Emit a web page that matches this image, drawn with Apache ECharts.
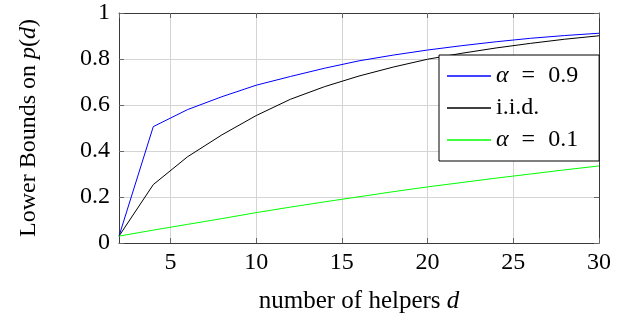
<!DOCTYPE html>
<html>
<head>
<meta charset="utf-8">
<script src="https://cdn.jsdelivr.net/npm/echarts@6/dist/echarts.min.js"></script>
<style>
html,body{margin:0;padding:0;background:#fff;}
#c{width:628px;height:322px;}
</style>
</head>
<body>
<div id="c"></div>
<script>
var helpers = [2, 4, 6, 8, 10, 12, 14, 16, 18, 20, 22, 24, 26, 28, 30];
var alpha09 = [0.030, 0.506, 0.580, 0.636, 0.686, 0.724, 0.760, 0.792, 0.817, 0.839, 0.858, 0.875, 0.890, 0.902, 0.912];
var iid     = [0.030, 0.254, 0.375, 0.470, 0.554, 0.625, 0.680, 0.726, 0.765, 0.799, 0.825, 0.848, 0.868, 0.886, 0.901];
var alpha01 = [0.030, 0.056, 0.081, 0.106, 0.132, 0.156, 0.179, 0.201, 0.223, 0.244, 0.263, 0.282, 0.300, 0.318, 0.335];
var seriesNames = ['α = 0.9', 'i.i.d.', 'α = 0.1'];
var legendLabels = {'α = 0.9': '{i|α}{e|=}0.9', 'i.i.d.': 'i.i.d.', 'α = 0.1': '{i|α}{e|=}0.1'};
var xTitle = 'number of helpers {i|d}';
var yTitle = 'Lower Bounds on {i|p}({i|d})';

function pairs(ys){ return helpers.map(function(x,i){ return [x, ys[i]]; }); }

var FONT = 'Liberation Serif';
var chart = echarts.init(document.getElementById('c'), null, {renderer:'canvas'});
var axisLineStyle = {color:'#3a3a3a', width:1};
var tickStyle = {color:'#666', width:1};
function richFor(size, pad){
  return {
    i:{fontFamily:FONT, fontStyle:'italic', fontSize:size, color:'#000'},
    e:{fontFamily:FONT, fontSize:size, color:'#000', padding:[0,pad||9,0,pad||9]}
  };
}
chart.setOption({
  animation:false,
  backgroundColor:'#fff',
  grid:{left:119, right:29, top:13, bottom:79, containLabel:false},
  legend:{
    orient:'vertical', left:439, top:55,
    padding:[9,21,9,8], itemGap:8,
    itemWidth:44, itemHeight:1.3, icon:'rect',
    backgroundColor:'#fff', borderColor:'#000', borderWidth:1,
    data: seriesNames,
    formatter:function(n){ return legendLabels[n]; },
    textStyle:{fontFamily:FONT, fontSize:24, color:'#000', rich:richFor(24, 13)}
  },
  xAxis:[{
    type:'value', min:2, max:30, position:'bottom',
    name:xTitle, nameLocation:'middle', nameGap:46,
    nameTextStyle:{fontFamily:FONT, fontSize:25, color:'#000', rich:richFor(25)},
    axisLine:{show:true, lineStyle:axisLineStyle},
    axisTick:{show:true, inside:true, length:5, lineStyle:tickStyle},
    axisLabel:{fontFamily:FONT, fontSize:24, color:'#000', margin:8, showMinLabel:false,
      formatter:function(v){ return v===2 ? '' : String(v); }},
    splitLine:{show:true, lineStyle:{color:'#d4d4d4', width:1}}
  },{
    type:'value', min:2, max:30, position:'top',
    axisLine:{show:true, onZero:false, lineStyle:axisLineStyle},
    axisTick:{show:true, inside:true, length:5, lineStyle:tickStyle},
    axisLabel:{show:false}, splitLine:{show:false}
  }],
  yAxis:[{
    type:'value', min:0, max:1, interval:0.2, position:'left',
    name:yTitle, nameLocation:'middle', nameGap:78, nameRotate:90,
    nameTextStyle:{fontFamily:FONT, fontSize:24, color:'#000', rich:richFor(24)},
    axisLine:{show:true, lineStyle:axisLineStyle},
    axisTick:{show:true, inside:true, length:5, lineStyle:tickStyle},
    axisLabel:{fontFamily:FONT, fontSize:24, color:'#000', margin:9},
    splitLine:{show:true, lineStyle:{color:'#d4d4d4', width:1}}
  },{
    type:'value', min:0, max:1, interval:0.2, position:'right',
    axisLine:{show:true, onZero:false, lineStyle:axisLineStyle},
    axisTick:{show:true, inside:true, length:5, lineStyle:tickStyle},
    axisLabel:{show:false}, splitLine:{show:false}
  }],
  series:[
    {name:seriesNames[0], type:'line', data:pairs(alpha09), showSymbol:false, symbol:'none',
     lineStyle:{color:'#0000ff', width:1}, itemStyle:{color:'#0000ff'}, z:3},
    {name:seriesNames[1], type:'line', data:pairs(iid), showSymbol:false, symbol:'none',
     lineStyle:{color:'#000000', width:1}, itemStyle:{color:'#000000'}, z:3},
    {name:seriesNames[2], type:'line', data:pairs(alpha01), showSymbol:false, symbol:'none',
     lineStyle:{color:'#00ff00', width:1}, itemStyle:{color:'#00ff00'}, z:3}
  ]
});
</script>
</body>
</html>
